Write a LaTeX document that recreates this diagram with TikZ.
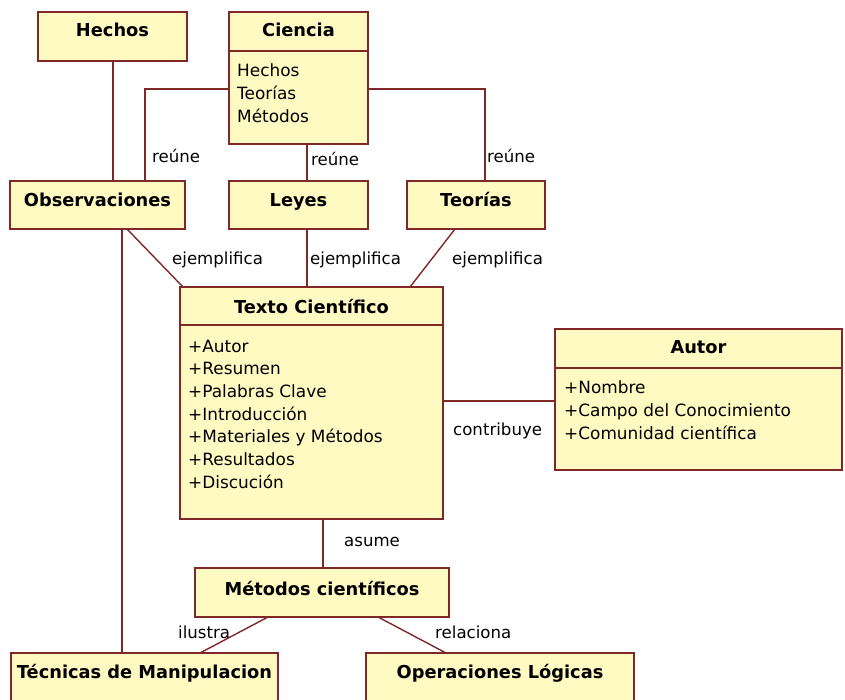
\documentclass[tikz,border=0pt]{standalone}
\usepackage{fontspec}
\setmainfont{DejaVu Sans}
\definecolor{bordc}{RGB}{128,40,40}
\definecolor{fillc}{RGB}{255,250,194}
\begin{document}
\begin{tikzpicture}[x=1pt,y=-1pt,
  box/.style={draw=bordc, fill=fillc, line width=1.6pt, anchor=north west, inner sep=0pt, outer sep=0pt},
  sepline/.style={draw=bordc, line width=1.6pt},
  ttl/.style={font=\fontsize{17.8}{20}\selectfont\bfseries, inner sep=0pt, anchor=base},
  attr/.style={font=\fontsize{16.9}{20}\selectfont, inner sep=0pt, anchor=base west},
  lbl/.style={font=\fontsize{16.6}{20}\selectfont, inner sep=0pt, anchor=base west},
  conn/.style={draw=bordc, line width=1.4pt}]
\useasboundingbox (0,0) rectangle (845,700);

% connector end points
\coordinate (hb) at (113,61);
\coordinate (ot1) at (113,181);
\coordinate (cl) at (229,89);
\coordinate (ot2) at (145,181);
\coordinate (cb) at (307,144);
\coordinate (lt) at (307,181);
\coordinate (cr) at (368,89);
\coordinate (tt) at (485,181);
\coordinate (ob1) at (127,229);
\coordinate (xt1) at (183,287);
\coordinate (lb) at (307,229);
\coordinate (xt2) at (307,287);
\coordinate (tb) at (455,229);
\coordinate (xt3) at (410,287);
\coordinate (xr) at (443,401);
\coordinate (al) at (555,401);
\coordinate (xb) at (323,519);
\coordinate (mt) at (323,568);
\coordinate (ob2) at (122,229);
\coordinate (tct) at (122,653);
\coordinate (mb1) at (268,617);
\coordinate (tct2) at (200,653);
\coordinate (mb2) at (378,617);
\coordinate (opt) at (446,653);

% connectors
\draw[conn] (hb) -- (ot1);
\draw[conn] (cl) -| (ot2);
\draw[conn] (cb) -- (lt);
\draw[conn] (cr) -| (tt);
\draw[conn] (ob1) -- (xt1);
\draw[conn] (lb) -- (xt2);
\draw[conn] (tb) -- (xt3);
\draw[conn] (xr) -- (al);
\draw[conn] (xb) -- (mt);
\draw[conn] (ob2) -- (tct);
\draw[conn] (mb1) -- (tct2);
\draw[conn] (mb2) -- (opt);

% boxes
\node[box, minimum width=149pt, minimum height=49pt] (hechos) at (38,12) {};
\node[ttl] (thechos) at (112.5,37) {Hechos};

\node[box, minimum width=139pt, minimum height=132pt] (ciencia) at (229,12) {};
\draw[sepline] (229,51) -- (368,51);
\node[ttl] (tciencia) at (298.5,37) {Ciencia};
\foreach \t [count=\i] in {Hechos,Teorías,Métodos}
  \node[attr] (cien\i) at (237,{77+23*(\i-1)}) {\t};

\node[box, minimum width=175pt, minimum height=48pt] (obs) at (10,181) {};
\node[ttl] (tobs) at (97.5,207) {Observaciones};

\node[box, minimum width=139pt, minimum height=48pt] (leyes) at (229,181) {};
\node[ttl] (tleyes) at (298.5,207) {Leyes};

\node[box, minimum width=138pt, minimum height=48pt] (teorias) at (407,181) {};
\node[ttl] (tteorias) at (476,207) {Teorías};

\node[box, minimum width=263pt, minimum height=232pt] (texto) at (180,287) {};
\draw[sepline] (180,325) -- (443,325);
\node[ttl] (ttexto) at (311.5,313) {Texto Científico};
\foreach \t [count=\i] in {+Autor,+Resumen,+Palabras Clave,+Introducción,+Materiales y Métodos,+Resultados,+Discución}
  \node[attr] (tx\i) at (188,{352+22.7*(\i-1)}) {\t};

\node[box, minimum width=287pt, minimum height=141pt] (autor) at (555,329) {};
\draw[sepline] (555,368) -- (842,368);
\node[ttl] (tautor) at (698.5,353) {Autor};
\foreach \t [count=\i] in {+Nombre,+Campo del Conocimiento,+Comunidad científica}
  \node[attr] (au\i) at (564,{393+23*(\i-1)}) {\t};

\node[box, minimum width=254pt, minimum height=49pt] (metodos) at (195,568) {};
\node[ttl] (tmetodos) at (322,595) {Métodos científicos};

\node[box, minimum width=267pt, minimum height=49pt] (tecnicas) at (11,653) {};
\node[ttl] (ttecnicas) at (144.5,678) {Técnicas de Manipulacion};

\node[box, minimum width=268pt, minimum height=49pt] (operac) at (366,653) {};
\node[ttl] (toperac) at (500,678) {Operaciones Lógicas};

% labels
\node[lbl] (l1) at (152,163) {reúne};
\node[lbl] (l2) at (311,166) {reúne};
\node[lbl] (l3) at (487,163) {reúne};
\node[lbl] (l4) at (172,265) {ejemplifica};
\node[lbl] (l5) at (310,265) {ejemplifica};
\node[lbl] (l6) at (452,265) {ejemplifica};
\node[lbl] (l7) at (453,435) {contribuye};
\node[lbl] (l8) at (344,546) {asume};
\node[lbl] (l9) at (178,638) {ilustra};
\node[lbl] (l10) at (435,638) {relaciona};
\end{tikzpicture}
\end{document}
